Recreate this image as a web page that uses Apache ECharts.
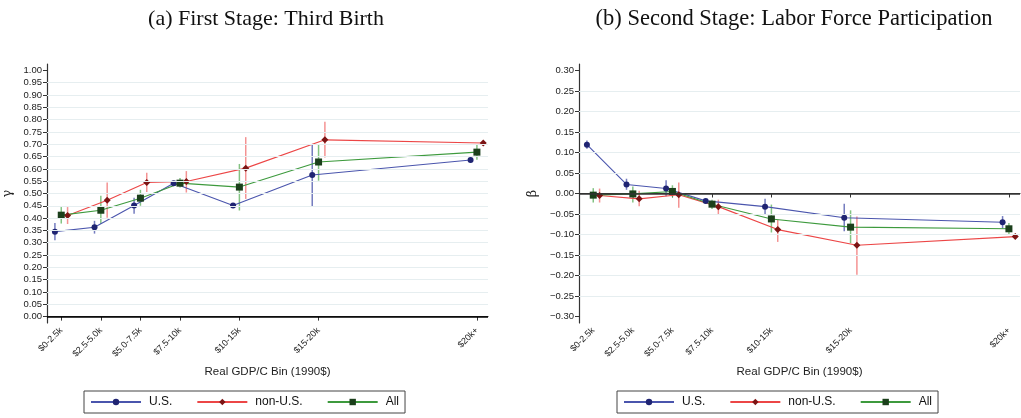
<!DOCTYPE html>
<html>
<head>
<meta charset="utf-8">
<script src="https://cdn.jsdelivr.net/npm/echarts@6/dist/echarts.min.js"></script>
<style>html,body{margin:0;padding:0;background:#fff}#c{width:1021px;height:418px}</style>
</head>
<body>
<div id="c"></div>
<script>
// ---- data ----
const binLabels = ['$0-2.5k', '$2.5-5.0k', '$5.0-7.5k', '$7.5-10k', '$10-15k', '$15-20k', '$20k+'];
const binCenters = [1.25, 3.75, 6.25, 8.75, 12.5, 17.5, 27.5]; // GDP/C (thousands) bin positions

// Panel (a): first stage gamma
const gammaUS      = [0.345, 0.363, 0.451, 0.542, 0.451, 0.575, 0.636];
const gammaUSLo    = [0.310, 0.337, 0.418, 0.535, 0.446, 0.447, 0.626];
const gammaUSHi    = [0.380, 0.389, 0.483, 0.549, 0.456, 0.701, 0.646];
const gammaNonUS   = [0.411, 0.473, 0.545, 0.549, 0.603, 0.718, 0.705];
const gammaNonUSLo = [0.376, 0.402, 0.506, 0.504, 0.478, 0.646, 0.700];
const gammaNonUSHi = [0.445, 0.545, 0.584, 0.591, 0.729, 0.791, 0.710];
const gammaAll     = [0.412, 0.432, 0.481, 0.542, 0.526, 0.628, 0.668];
const gammaAllLo   = [0.378, 0.376, 0.450, 0.524, 0.431, 0.552, 0.637];
const gammaAllHi   = [0.445, 0.491, 0.515, 0.563, 0.620, 0.700, 0.698];

// Panel (b): second stage beta
const betaUS      = [0.119, 0.022, 0.012, -0.018, -0.032, -0.059, -0.070];
const betaUSLo    = [0.109, 0.009, -0.007, -0.022, -0.050, -0.092, -0.085];
const betaUSHi    = [0.129, 0.036, 0.032, -0.014, -0.013, -0.025, -0.055];
const betaNonUS   = [-0.005, -0.013, -0.003, -0.032, -0.088, -0.126, -0.105];
const betaNonUSLo = [-0.022, -0.031, -0.035, -0.052, -0.118, -0.198, -0.109];
const betaNonUSHi = [0.012, 0.007, 0.027, -0.015, -0.064, -0.056, -0.101];
const betaAll     = [-0.004, -0.001, 0.005, -0.026, -0.062, -0.082, -0.086];
const betaAllLo   = [-0.022, -0.022, -0.009, -0.038, -0.095, -0.121, -0.100];
const betaAllHi   = [0.013, 0.017, 0.020, -0.015, -0.027, -0.041, -0.072];

const gammaTicks = [0.00,0.05,0.10,0.15,0.20,0.25,0.30,0.35,0.40,0.45,0.50,0.55,0.60,0.65,0.70,0.75,0.80,0.85,0.90,0.95,1.00];
const betaTicks  = [-0.30,-0.25,-0.20,-0.15,-0.10,-0.05,0.00,0.05,0.10,0.15,0.20,0.25,0.30];

const seriesNames = ['U.S.', 'non-U.S.', 'All'];
const titles = ['(a) First Stage: Third Birth', '(b) Second Stage: Labor Force Participation'];
const xName = 'Real GDP/C Bin (1990$)';

// ---- styling ----
const lineColors = ['#4a55ad', '#ec4646', '#3d9a3d'];
const markColors = ['#1f2472', '#7c1414', '#1b3f1b'];
const errColors  = ['rgba(70,80,170,0.75)', 'rgba(240,110,110,0.75)', 'rgba(90,175,90,0.75)'];
const symbols = ['circle', 'diamond', 'rect'];
const symSizes = [6, 7, 7];
const offsets = [-0.4, 0.4, 0];

const chart = echarts.init(document.getElementById('c'), null, {renderer: 'canvas'});

const fmt = v => {
  const s = Math.abs(v).toFixed(2);
  return v < -1e-9 ? '\u2212' + s : s;
};

function xAxisFor(gi) {
  return {
    type: 'value', gridIndex: gi, min: 0.35, max: 28.2,
    name: xName, nameLocation: 'middle', nameGap: 35,
    nameTextStyle: {fontFamily: 'Liberation Sans', fontSize: 11.5, color: '#222'},
    axisLine: {show: true, lineStyle: {color: '#333', width: 1.2}},
    axisTick: {show: true, length: 4, customValues: binCenters, lineStyle: {color: '#333'}},
    axisLabel: {
      customValues: binCenters, rotate: 45, fontSize: 9, margin: 6,
      fontFamily: 'Liberation Sans', color: '#222',
      formatter: v => { const i = binCenters.findIndex(c => Math.abs(c - v) < 1e-6); return i >= 0 ? binLabels[i] : ''; }
    },
    splitLine: {show: false}
  };
}
function yAxisFor(gi, ticks, name, gap) {
  const lo = ticks[0], hi = ticks[ticks.length - 1];
  const pad = (hi - lo) * 0.026;
  return {
    type: 'value', gridIndex: gi, min: lo - pad, max: hi + pad,
    name: name, nameLocation: 'middle', nameRotate: 90, nameGap: gap,
    nameTextStyle: {fontFamily: 'DejaVu Serif', fontSize: 13, color: '#222'},
    axisLine: {show: true, lineStyle: {color: '#333', width: 1.2}},
    axisTick: {show: true, length: 4, customValues: ticks, lineStyle: {color: '#333'}},
    axisLabel: {customValues: ticks, fontSize: 9.5, margin: 5, fontFamily: 'Liberation Sans', color: '#222', formatter: fmt},
    splitLine: {show: false}
  };
}

const series = [];
const panels = [
  {vals: [gammaUS, gammaNonUS, gammaAll], lo: [gammaUSLo, gammaNonUSLo, gammaAllLo], hi: [gammaUSHi, gammaNonUSHi, gammaAllHi], ticks: gammaTicks, zeroColor: '#000', zeroW: 1.6},
  {vals: [betaUS, betaNonUS, betaAll], lo: [betaUSLo, betaNonUSLo, betaAllLo], hi: [betaUSHi, betaNonUSHi, betaAllHi], ticks: betaTicks, zeroColor: '#333', zeroW: 1.6}
];

panels.forEach((p, gi) => {
  // lines + markers first so the legend takes their style
  for (let s = 0; s < 3; s++) {
    series.push({
      type: 'line', name: seriesNames[s], xAxisIndex: gi, yAxisIndex: gi, z: 3,
      data: binCenters.map((c, i) => [c + offsets[s], p.vals[s][i]]),
      symbol: symbols[s], symbolSize: symSizes[s], showSymbol: true,
      lineStyle: {color: lineColors[s], width: 1.1},
      itemStyle: {color: markColors[s], borderWidth: 0},
      animation: false
    });
  }
  // gridlines + zero line
  const inner = p.ticks.slice(1, -1).filter(t => Math.abs(t) > 1e-9);
  series.push({
    type: 'line', name: '_grid' + gi, xAxisIndex: gi, yAxisIndex: gi, data: [], silent: true, z: 0,
    markLine: {
      silent: true, symbol: ['none', 'none'], label: {show: false}, animation: false,
      data: inner.map(t => ({yAxis: t, lineStyle: {color: '#e6eef0', width: 1, type: 'solid'}}))
        .concat([{yAxis: 0, lineStyle: {color: p.zeroColor, width: p.zeroW, type: 'solid'}}])
    }
  });
  for (let s = 0; s < 3; s++) {
    const errData = binCenters.map((c, i) => [c + offsets[s], p.lo[s][i], p.hi[s][i]]);
    series.push({
      type: 'custom', name: seriesNames[s] + ' CI', xAxisIndex: gi, yAxisIndex: gi, z: 1, silent: true,
      data: errData, encode: {x: 0, y: [1, 2]},
      renderItem: (params, api) => {
        const a = api.coord([api.value(0), api.value(1)]);
        const b = api.coord([api.value(0), api.value(2)]);
        return {type: 'line', shape: {x1: a[0], y1: a[1], x2: b[0], y2: b[1]}, style: {stroke: errColors[s], lineWidth: 1.5}};
      }
    });
  }
});

function legendFor(left) {
  return {
    left: left, top: 391, orient: 'horizontal',
    data: seriesNames.map(n => ({name: n})),
    padding: [5, 6, 5, 6], borderColor: '#444', borderWidth: 1,
    itemWidth: 50, itemHeight: 8, itemGap: 24,
    textStyle: {fontFamily: 'Liberation Sans', fontSize: 12, color: '#111', padding: [0, 0, 0, 3]},
    selectedMode: false
  };
}

chart.setOption({
  animation: false,
  backgroundColor: '#fff',
  title: [
    {text: titles[0], left: 261, top: 3, textAlign: 'center', textStyle: {fontFamily: 'Liberation Serif', fontWeight: 'normal', fontSize: 22, color: '#111'}},
    {text: titles[1], left: 789, top: 3, textAlign: 'center', textStyle: {fontFamily: 'Liberation Serif', fontWeight: 'normal', fontSize: 22.5, color: '#111'}}
  ],
  grid: [
    {left: 43, right: 533, top: 64, bottom: 95},
    {left: 579, right: 1, top: 64, bottom: 95}
  ],
  xAxis: [xAxisFor(0), xAxisFor(1)],
  yAxis: [yAxisFor(0, gammaTicks, '\u03b3', 33), yAxisFor(1, betaTicks, '\u03b2', 40)],
  legend: [legendFor(84), legendFor(617)],
  series: series
});
</script>
</body>
</html>
